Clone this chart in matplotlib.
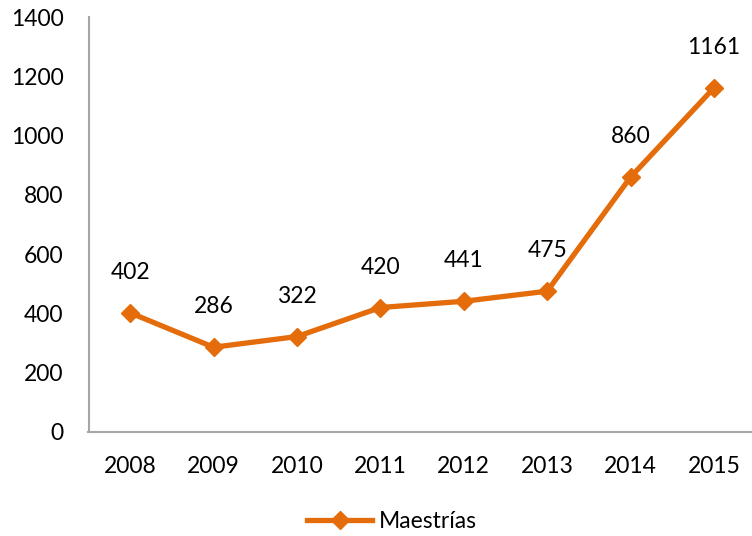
import matplotlib
matplotlib.use("Agg")
import matplotlib.pyplot as plt
from matplotlib.lines import Line2D

years = ["2008", "2009", "2010", "2011", "2012", "2013", "2014", "2015"]
maestrias = [402, 286, 322, 420, 441, 475, 860, 1161]
yticks = [0, 200, 400, 600, 800, 1000, 1200, 1400]

plt.rcParams['font.family'] = ['Lato', 'DejaVu Sans']
color = '#E46C0A'
fs = 16.5

fig = plt.figure(figsize=(7.52, 5.36), dpi=100)
ax = fig.add_axes([88.5/752, (536-432)/536, (755.7-88.5)/752, (432-17)/536])
x = list(range(len(years)))
ax.plot(x, maestrias, color=color, lw=3.8, marker='D', markersize=9, label='Maestrías')
for xi, v in zip(x, maestrias):
    ax.annotate(str(v), (xi, v), xytext=(0, 29), textcoords='offset points',
                ha='center', va='center', fontsize=fs)
ax.set_xlim(-0.5, len(years) - 0.5)
ax.set_ylim(0, 1400)
ax.set_yticks(yticks)
ax.set_yticklabels([str(t) for t in yticks], fontsize=fs)
ax.set_xticks(x)
ax.set_xticklabels(years, fontsize=fs)
ax.tick_params(axis='x', length=0, pad=17)
ax.tick_params(axis='y', length=0, pad=18)
for s in ['top', 'right']:
    ax.spines[s].set_visible(False)
for s in ['left', 'bottom']:
    ax.spines[s].set_color('#A6A6A6')
    ax.spines[s].set_linewidth(1.5)
fig.legend(handles=[Line2D([], [], color=color, lw=3.8, marker='D', markersize=9)],
           labels=['Maestrías'], loc='center', bbox_to_anchor=(392/752, 1 - 522/536),
           frameon=False, fontsize=fs, handlelength=2.8, handletextpad=0.3)
fig.savefig("out.png", dpi=100)
